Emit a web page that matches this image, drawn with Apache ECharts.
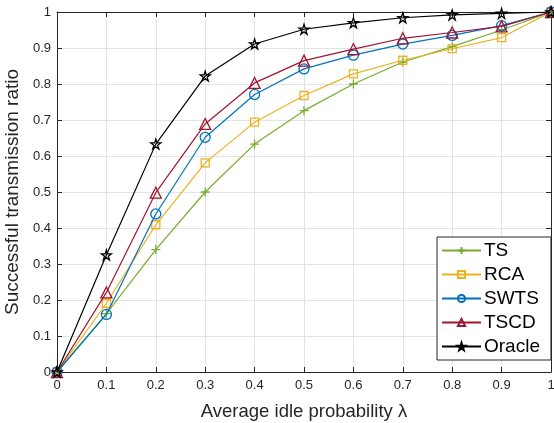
<!DOCTYPE html>
<html><head><meta charset="utf-8">
<script src="https://cdn.jsdelivr.net/npm/echarts@6/dist/echarts.min.js"></script>
<style>html,body{margin:0;padding:0;background:#fff}#c{width:554px;height:423px}</style>
</head><body><div id="c"></div>
<script>
const xValues = [0, 0.1, 0.2, 0.3, 0.4, 0.5, 0.6, 0.7, 0.8, 0.9, 1];
const seriesNames = ['TS', 'RCA', 'SWTS', 'TSCD', 'Oracle'];
const tsValues     = [0, 0.162, 0.340, 0.500, 0.633, 0.726, 0.800, 0.861, 0.904, 0.950, 1];
const rcaValues    = [0, 0.191, 0.409, 0.581, 0.694, 0.768, 0.828, 0.866, 0.898, 0.929, 1];
const swtsValues   = [0, 0.160, 0.439, 0.652, 0.771, 0.842, 0.880, 0.911, 0.935, 0.962, 1];
const tscdValues   = [0, 0.221, 0.498, 0.689, 0.803, 0.865, 0.897, 0.927, 0.943, 0.960, 1];
const oracleValues = [0, 0.325, 0.633, 0.822, 0.911, 0.952, 0.970, 0.984, 0.992, 0.996, 1];
const allValues = [tsValues, rcaValues, swtsValues, tscdValues, oracleValues];
const colors = ['#77AC30', '#EDB120', '#0072BD', '#A2142F', '#000000'];

const plusPath = 'path://M5,0L5,10M0,5L10,5';
const starPath = 'path://M50,0L61.8,36.2L100,36.2L69.1,58.6L80.9,95.1L50,72.6L19.1,95.1L30.9,58.6L0,36.2L38.2,36.2Z';
const symbols = [plusPath, 'rect', 'circle', 'triangle', starPath];
const symbolSizes = [9, 8, 10, 11, 10];

const axisColor = '#262626';
const font = 'Liberation Sans, Arial, sans-serif';

const chart = echarts.init(document.getElementById('c'), null, {renderer: 'canvas'});
const series = seriesNames.map((name, i) => ({
  name: name,
  type: 'line',
  data: xValues.map((x, j) => [x, allValues[i][j]]),
  symbol: symbols[i],
  symbolSize: symbolSizes[i],
  showAllSymbol: true,
  lineStyle: {color: colors[i], width: 1.2},
  itemStyle: {color: 'transparent', borderColor: colors[i], borderWidth: 1.3},
  emphasis: {disabled: true},
  animation: false,
  z: 2 + i
}));

chart.setOption({
  backgroundColor: '#fff',
  animation: false,
  grid: {left: 57, right: 3, top: 12, bottom: 51, containLabel: false, outerBoundsMode: 'none'},
  legend: {
    orient: 'vertical',
    left: 437, top: 237,
    data: seriesNames,
    backgroundColor: '#fff',
    borderColor: axisColor,
    borderWidth: 1,
    padding: [4, 11, 4, 4],
    itemWidth: 39,
    itemHeight: 9,
    itemGap: 5,
    textStyle: {fontFamily: font, fontSize: 19, color: '#000', padding: [0, 0, 0, -2]},
    z: 10
  },
  xAxis: [{
    type: 'value', min: 0, max: 1, interval: 0.1,
    name: 'Average idle probability λ',
    nameLocation: 'middle', nameGap: 30,
    nameTextStyle: {fontFamily: font, fontSize: 18.5, color: axisColor},
    axisLine: {show: true, lineStyle: {color: axisColor, width: 1}},
    axisTick: {show: true, inside: true, length: 5, lineStyle: {color: axisColor}},
    axisLabel: {fontFamily: font, fontSize: 13, color: axisColor, margin: 7,
      formatter: v => (Math.round(v * 10) / 10).toString()},
    splitLine: {show: true, lineStyle: {color: '#e3e3e3', width: 1}}
  }, {
    type: 'value', min: 0, max: 1, interval: 0.1, position: 'top',
    axisLine: {show: true, onZero: false, lineStyle: {color: axisColor, width: 1}},
    axisTick: {show: true, inside: true, length: 5, lineStyle: {color: axisColor}},
    axisLabel: {show: false}, splitLine: {show: false}
  }],
  yAxis: [{
    type: 'value', min: 0, max: 1, interval: 0.1,
    name: 'Successful transmission ratio',
    nameLocation: 'middle', nameGap: 32,
    nameTextStyle: {fontFamily: font, fontSize: 19, color: axisColor},
    axisLine: {show: true, lineStyle: {color: axisColor, width: 1}},
    axisTick: {show: true, inside: true, length: 5, lineStyle: {color: axisColor}},
    axisLabel: {fontFamily: font, fontSize: 13, color: axisColor, margin: 6,
      formatter: v => (Math.round(v * 10) / 10).toString()},
    splitLine: {show: true, lineStyle: {color: '#e3e3e3', width: 1}}
  }, {
    type: 'value', min: 0, max: 1, interval: 0.1, position: 'right',
    axisLine: {show: true, onZero: false, lineStyle: {color: axisColor, width: 1}},
    axisTick: {show: true, inside: true, length: 5, lineStyle: {color: axisColor}},
    axisLabel: {show: false}, splitLine: {show: false}
  }],
  series: series
});
</script></body></html>
